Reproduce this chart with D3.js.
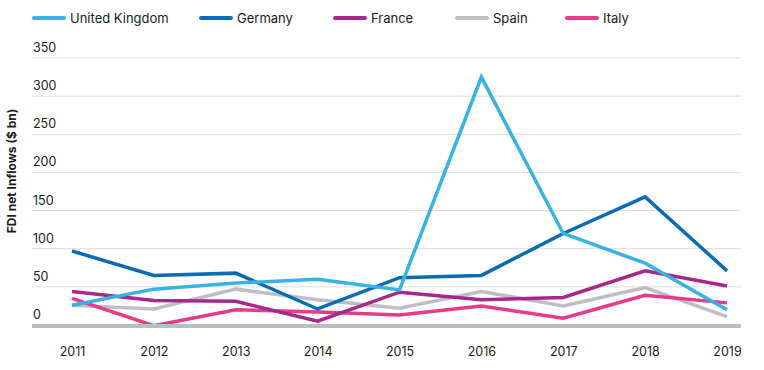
<!doctype html>
<html>
<head>
  <meta charset="UTF-8">
  <script src="https://d3js.org/d3.v7.min.js"></script>
  <style>
    body { margin: 0; background: #fff; }
    text { font-family: Inter, Roboto, sans-serif; fill: #1a1a1a; }
  </style>
</head>
<body>
  <div id="svg_area"></div>
<script>
// data
var years = [2011, 2012, 2013, 2014, 2015, 2016, 2017, 2018, 2019];
var uk      = [26, 47, 55, 60, 46, 325, 120, 81, 20];
var germany = [97, 65, 68, 21, 62, 65, 120, 168, 71];
var france  = [44, 32, 31, 5, 43, 33, 36, 71, 51];
var spain   = [26, 21, 47, 33, 22, 44, 25, 49, 11];
var italy   = [35, -1, 20, 17, 13, 25, 9, 39, 29];
var yTicks  = [0, 50, 100, 150, 200, 250, 300, 350];

var series = [
  { name: "United Kingdom", values: uk,      colour: "#38b2e4" },
  { name: "Germany",        values: germany, colour: "#0a6cb3" },
  { name: "France",         values: france,  colour: "#a6288a" },
  { name: "Spain",          values: spain,   colour: "#bebec4" },
  { name: "Italy",          values: italy,   colour: "#e8398b" }
];
// drawn order: Spain underneath, then the rest
var drawOrder = ["Spain", "Italy", "France", "Germany", "United Kingdom"];

var svg = d3.select("#svg_area").append("svg")
    .attr("width", 764)
    .attr("height", 370);

// scales
var xScale = d3.scalePoint()
    .domain(years)
    .range([72, 727]);

var yScale = d3.scaleLinear()
    .domain([0, 350])
    .range([325, 58]);

// gridlines + labels above them
var grid = svg.append("g");
grid.selectAll("line")
    .data(yTicks.filter(function(d){ return d > 0; }))
    .enter().append("line")
    .attr("x1", 32).attr("x2", 741)
    .attr("y1", function(d){ return yScale(d); })
    .attr("y2", function(d){ return yScale(d); })
    .attr("stroke", "#dcdcdc")
    .attr("stroke-width", 1);

grid.selectAll("text")
    .data(yTicks)
    .enter().append("text")
    .attr("x", 33)
    .attr("y", function(d){ return yScale(d) - 6; })
    .attr("font-size", "12.5px")
    .text(function(d){ return d; });

// lines
var line = d3.line()
    .x(function(d, i){ return xScale(years[i]); })
    .y(function(d){ return yScale(d); });

svg.append("g").selectAll("path")
    .data(drawOrder.map(function(n){ return series.find(function(s){ return s.name === n; }); }))
    .enter().append("path")
    .attr("d", function(s){ return line(s.values); })
    .attr("fill", "none")
    .attr("stroke", function(s){ return s.colour; })
    .attr("stroke-width", 3.5)
    .attr("stroke-linejoin", "miter");

// thick baseline
svg.append("line")
    .attr("x1", 32).attr("x2", 741)
    .attr("y1", yScale(0) + 1).attr("y2", yScale(0) + 1)
    .attr("stroke", "#b9bfbd")
    .attr("stroke-width", 4);

// x axis labels
var xAxis = d3.axisBottom(xScale).tickSize(0).tickPadding(0);
var gx = svg.append("g")
    .attr("transform", "translate(0,347)")
    .call(xAxis);
gx.select(".domain").remove();
gx.selectAll("text")
    .attr("font-size", "12.5px")
    .attr("font-family", "Inter, Roboto, sans-serif")
    .attr("fill", "#1a1a1a");

// y axis title
svg.append("text")
    .attr("transform", "translate(16,171) rotate(-90)")
    .attr("text-anchor", "middle")
    .attr("font-size", "12px")
    .attr("font-weight", "bold")
    .text("FDI net Inflows ($ bn)");

// legend
var legendX = [34, 201, 335, 457, 567];
var legend = svg.append("g").selectAll("g")
    .data(series)
    .enter().append("g")
    .attr("transform", function(d, i){ return "translate(" + legendX[i] + ",18)"; });

legend.append("line")
    .attr("x1", 0).attr("x2", 30)
    .attr("stroke", function(d){ return d.colour; })
    .attr("stroke-width", 4)
    .attr("stroke-linecap", "round");

legend.append("text")
    .attr("x", 36)
    .attr("y", 4.5)
    .attr("font-size", "13px")
    .attr("font-family", "Roboto, sans-serif")
    .text(function(d){ return d.name; });
</script>
</body>
</html>
